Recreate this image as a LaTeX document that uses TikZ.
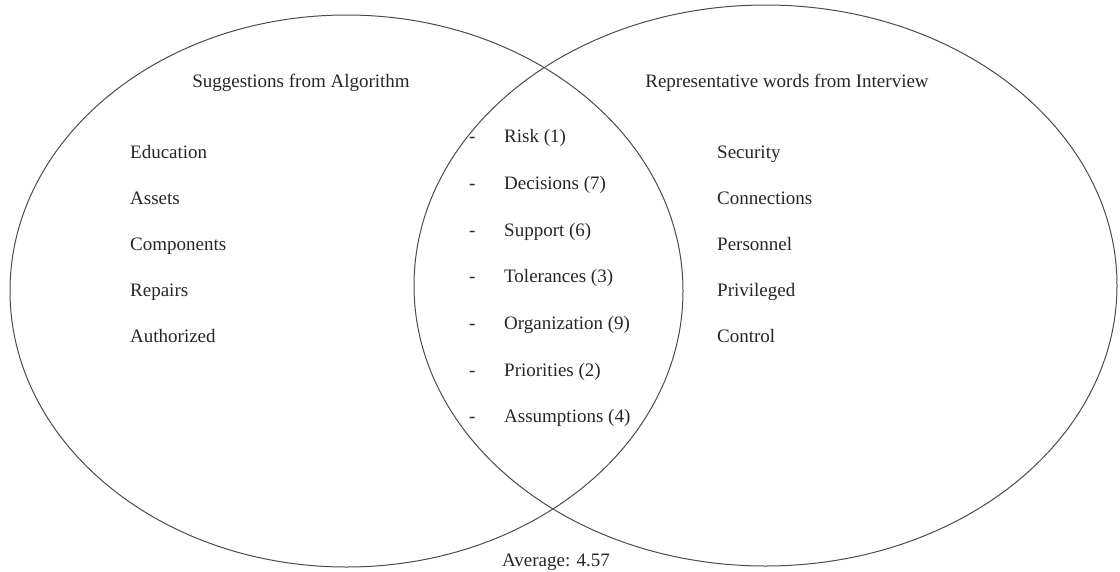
\documentclass[tikz,border=0pt]{standalone}
\usepackage{fontspec}
\setmainfont{Liberation Serif}
\usetikzlibrary{shapes.geometric, positioning}
\tikzset{
  set/.style={ellipse, draw=black!70, line width=1pt, inner sep=0pt},
  head/.style={anchor=base, font=\fontsize{19}{23}\selectfont, text=black!85, inner sep=0pt},
  word/.style={anchor=base west, font=\fontsize{19}{23}\selectfont, text=black!85, inner sep=0pt},
}

\begin{document}
\begin{tikzpicture}[x=1pt, y=-1pt]
\useasboundingbox (0,0) rectangle (1120,571);

% the two sets
\node[set, minimum width=673pt, minimum height=552pt] (algo) at (346.5,291) {};
\node[set, minimum width=703pt, minimum height=561pt] (intv) at (765.5,285.5) {};

% headings
\node[head] (algohead) at (301,87) {Suggestions from Algorithm};
\node[head] (intvhead) at (787,87) {Representative words from Interview};

% left-only words
\foreach \w [count=\i] in {Education, Assets, Components, Repairs, Authorized}
  \node[word] (algo\i) at (130,112+46*\i) {\w};

% right-only words
\foreach \w [count=\i] in {Security, Connections, Personnel, Privileged, Control}
  \node[word] (intv\i) at (717,112+46*\i) {\w};

% shared words
\foreach \w [count=\i] in {Risk (1), Decisions (7), Support (6), Tolerances (3),
                           Organization (9), Priorities (2), Assumptions (4)}
  \node[word] (both\i) at (469,96+46.7*\i) {\makebox[35pt][l]{-}\w};

\node[head] (avg) at (556,566) {Average: 4.57};
\end{tikzpicture}
\end{document}
